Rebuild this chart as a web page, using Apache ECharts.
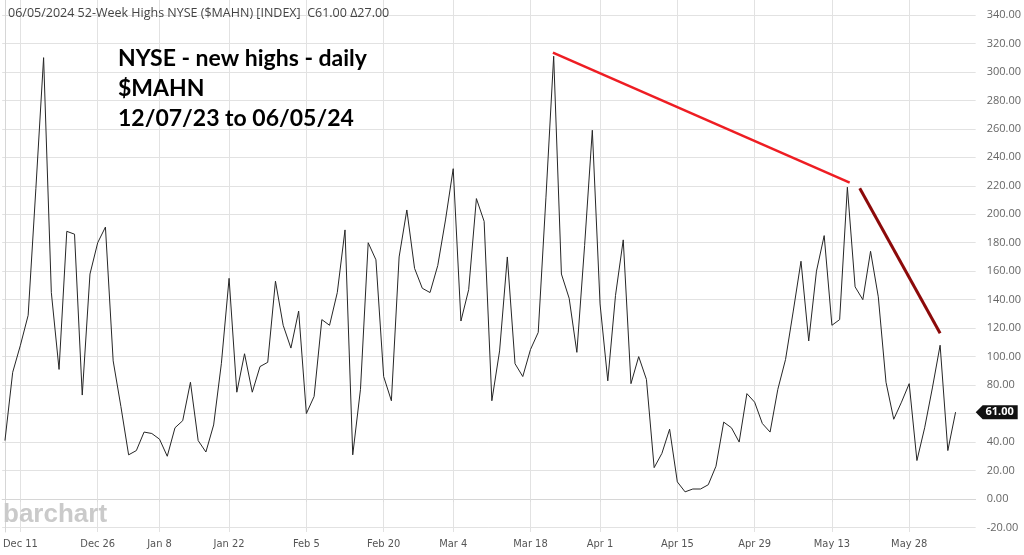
<!DOCTYPE html>
<html><head><meta charset="utf-8">
<script src="https://cdn.jsdelivr.net/npm/echarts@6/dist/echarts.min.js"></script>
<style>html,body{margin:0;padding:0;background:#fff}#c{width:1024px;height:555px}</style>
</head><body><div id="c"></div>
<script>
// Daily NYSE new highs ($MAHN), trading days 12/07/23 .. 06/05/24
const values = [
  41, 89, 108, 129, 218, 310, 145, 91, 188, 186,
  73, 158, 180, 191, 97, 65, 31, 34, 47, 46,
  42, 30, 50, 55, 82, 41, 33, 52, 95, 155,
  75, 102, 75, 93, 96, 153, 122, 106, 132, 60,
  72, 126, 122, 145, 189, 31, 77, 180, 168, 86,
  69, 170, 203, 162, 148, 145, 164, 196, 232, 125,
  147, 211, 195, 69, 104, 170, 95, 86, 105, 117,
  212, 311, 158, 141, 103, 178, 259, 137, 83, 143,
  182, 81, 100, 84, 22, 32, 49, 12, 5, 7,
  7, 10, 23, 54, 50, 40, 74, 68, 53, 47,
  77, 98, 132, 167, 111, 160, 185, 122, 126, 219,
  149, 140, 174, 142, 82, 56, 68, 81, 27, 50,
  78, 108, 34, 61
];
const xTickIdx = [2, 12, 20, 29, 39, 49, 58, 68, 77, 87, 97, 107, 117];
const xTickLabels = ['Dec 11','Dec 26','Jan 8','Jan 22','Feb 5','Feb 20','Mar 4','Mar 18','Apr 1','Apr 15','Apr 29','May 13','May 28'];
const yTicks = [-20, 0, 20, 40, 60, 80, 100, 120, 140, 160, 180, 200, 220, 240, 260, 280, 300, 320, 340];
const xRange = [-0.36, 125.6];
const yRange = [-23.2, 350.5];
// hand-drawn trend lines (trading-day index, value)
const trendUpper = [[70.9, 313.5], [109.3, 222.2]];
const trendLower = [[110.6, 218.3], [121.0, 116.4]];

const pts = values.map((v, i) => [i, v]);
const last = values[values.length - 1];

const chart = echarts.init(document.getElementById('c'), null, {renderer: 'canvas'});
chart.setOption({
  animation: false,
  backgroundColor: '#fff',
  title: [
    {text: '06/05/2024 52-Week Highs NYSE ($MAHN) [INDEX]  C61.00 \u039427.00', left: 3, top: 2,
     textStyle: {fontFamily: 'Open Sans', fontSize: 12.5, fontWeight: 'normal', color: '#444'}},
    {text: 'NYSE - new highs - daily\n$MAHN\n12/07/23 to 06/05/24', left: 113, top: 39,
     textStyle: {fontFamily: 'Lato', fontSize: 23, fontWeight: 'bold', color: '#000', lineHeight: 30}}
  ],
  graphic: [{type: 'text', left: 3, top: 502, z: 5,
    style: {text: 'barchart', fontFamily: 'Liberation Sans', fontSize: 26, fontWeight: 'bold', fill: '#cacaca'}}],
  grid: {left: 0, right: 47, top: 0, bottom: 23},
  xAxis: {
    type: 'value', min: xRange[0], max: xRange[1],
    axisLine: {show: true, lineStyle: {color: '#d6d6d6'}},
    axisTick: {show: true, customValues: xTickIdx, length: 3, lineStyle: {color: '#dcdcdc'}},
    axisLabel: {customValues: xTickIdx, formatter: v => xTickLabels[xTickIdx.indexOf(Math.round(v))] || '',
      margin: 7, fontFamily: "'Liberation Sans Narrow', 'DejaVu Sans Condensed', 'Open Sans'", fontSize: 11, color: '#555'},
    splitLine: {show: true, lineStyle: {color: '#e2e2e2'}}
  },
  yAxis: {
    type: 'value', position: 'right', min: yRange[0], max: yRange[1],
    axisLine: {show: true, lineStyle: {color: '#d6d6d6'}},
    axisTick: {show: false, customValues: yTicks},
    axisLabel: {customValues: yTicks, formatter: v => v.toFixed(2), margin: 11,
      fontFamily: 'Open Sans', fontSize: 11, color: '#666'},
    splitLine: {show: true, lineStyle: {color: '#e2e2e2'}}
  },
  series: [{
    type: 'line', data: pts, symbol: 'none', clip: false,
    lineStyle: {color: '#262626', width: 1},
    markLine: {
      silent: true, symbol: ['none', 'none'], label: {show: false},
      data: [
        [{coord: trendUpper[0], lineStyle: {color: '#ee1d23', width: 2.5, type: 'solid'}},
         {coord: trendUpper[1], lineStyle: {color: '#ee1d23', width: 2.5, type: 'solid'}}],
        [{coord: trendLower[0], lineStyle: {color: '#8c0a0a', width: 3, type: 'solid'}},
         {coord: trendLower[1], lineStyle: {color: '#8c0a0a', width: 3, type: 'solid'}}]
      ]
    },
    markPoint: {
      silent: true,
      data: [{coord: [xRange[1], last], value: last}],
      symbol: 'path://M0,7L7,0L42,0L42,14L7,14Z', symbolSize: [42, 14], symbolOffset: [21, 0],
      itemStyle: {color: '#111'},
      label: {show: true, color: '#fff', fontWeight: 'bold', fontSize: 11, fontFamily: 'Open Sans',
        offset: [3, 0], formatter: p => Number(p.value).toFixed(2)}
    }
  }]
});
</script>
</body></html>
